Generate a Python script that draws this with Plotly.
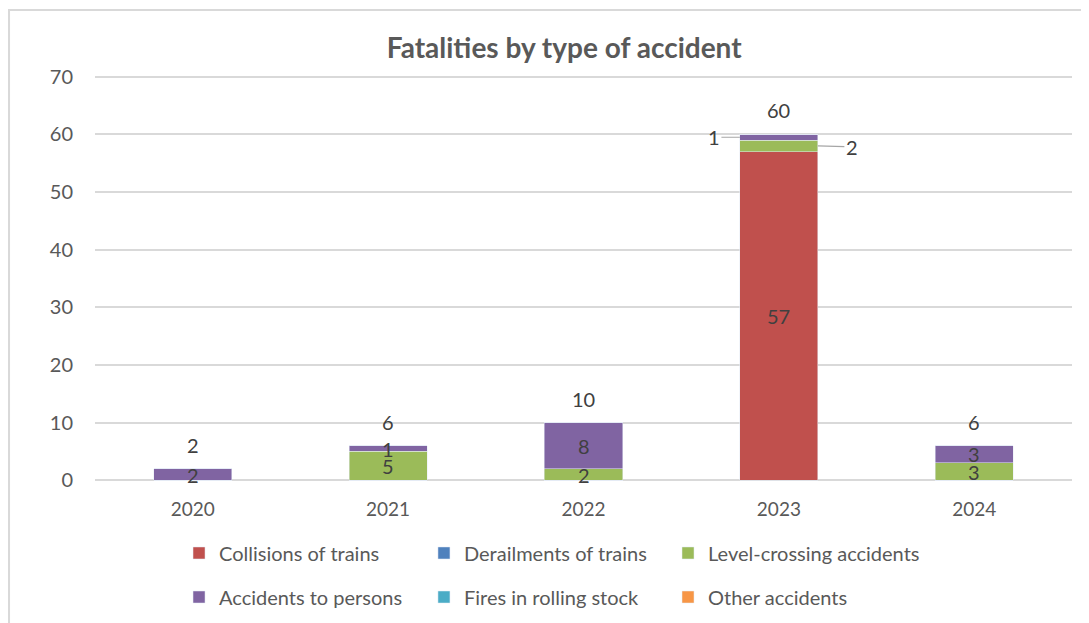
import plotly.graph_objects as go

years = ["2020", "2021", "2022", "2023", "2024"]
collisions = [0, 0, 0, 57, 0]
derailments = [0, 0, 0, 0, 0]
level_crossing = [0, 5, 2, 2, 3]
persons = [2, 1, 8, 1, 3]
fires = [0, 0, 0, 0, 0]
other = [0, 0, 0, 0, 0]

series = [
    ("Collisions of trains", collisions, "#C0504D"),
    ("Derailments of trains", derailments, "#4F81BD"),
    ("Level-crossing accidents", level_crossing, "#9BBB59"),
    ("Accidents to persons", persons, "#8064A2"),
    ("Fires in rolling stock", fires, "#4BACC6"),
    ("Other accidents", other, "#F79646"),
]

FONT = "Lato"
GREY = "#595959"
LBL = "#404040"

# page body has an 8px margin, figure is sized/offset for that
fig = go.Figure()
for i, (name, vals, col) in enumerate(series):
    fig.add_trace(go.Bar(
        x=years, y=vals, name=name, marker_color=col,
        legend="legend" if i == 0 else "legend%d" % (i + 1),
    ))

# data labels: inside segments, totals on top, two callouts for 2023
ann = []
base = [0] * len(years)
for name, vals, col in series:
    for j, v in enumerate(vals):
        if v == 0:
            continue
        mid = base[j] + v / 2
        if years[j] == "2023" and v < 5:
            # small segments labelled outside with a leader line
            left = name == "Accidents to persons"
            ann.append(dict(x=j, y=mid, xshift=-39 if left else 39,
                            text=str(v), showarrow=True, arrowhead=0,
                            arrowwidth=1.2, arrowcolor="#a6a6a6",
                            ax=-26 if left else 34, ay=0 if left else 1,
                            font=dict(size=20, color=LBL)))
        else:
            ann.append(dict(x=j, y=mid, text=str(v), showarrow=False,
                            font=dict(size=20, color=LBL)))
        base[j] += v
for j, t in enumerate(base):
    ann.append(dict(x=j, y=t, text=str(t), showarrow=False,
                    yshift=24, font=dict(size=20, color=LBL)))

# legend: 3 columns x 2 rows
leg_x = [0.086, 0.3367, 0.5865]
leg_y = [-0.1744, -0.2826]
legends = {}
for i in range(len(series)):
    key = "legend" if i == 0 else "legend%d" % (i + 1)
    legends[key] = dict(x=leg_x[i % 3], xanchor="left", y=leg_y[i // 3],
                        yanchor="middle", bgcolor="rgba(0,0,0,0)",
                        font=dict(size=20, color=GREY))

fig.update_layout(
    barmode="stack",
    bargap=0.6,
    width=1081, height=615,
    margin=dict(l=87, r=17, t=67, b=141, autoexpand=False),
    paper_bgcolor="#ffffff", plot_bgcolor="#ffffff",
    font=dict(family=FONT, size=19, color=GREY),
    title=dict(text="<b>Fatalities by type of accident</b>",
               x=0.5145, xanchor="center", y=0.935, yanchor="middle",
               font=dict(family=FONT, size=28, color=GREY)),
    annotations=ann,
    showlegend=True,
    shapes=[dict(type="rect", xref="paper", yref="paper",
                 x0=-0.088, x1=1.2, y0=-0.4, y1=1.16,
                 line=dict(color="#d9d9d9", width=2), layer="below")],
    **legends,
)
fig.update_yaxes(range=[-0.3, 70.3], dtick=10, tick0=0, showgrid=True,
                 gridcolor="#d9d9d9", gridwidth=1.5, zeroline=False,
                 showline=False, ticklabelstandoff=21,
                 tickfont=dict(size=20, color=GREY))
fig.update_xaxes(type="category", range=[-0.5, 4.5], showgrid=False,
                 showline=False, zeroline=False,
                 tickfont=dict(size=19, color=GREY), ticklabelstandoff=14)

fig.write_html("out.html")
